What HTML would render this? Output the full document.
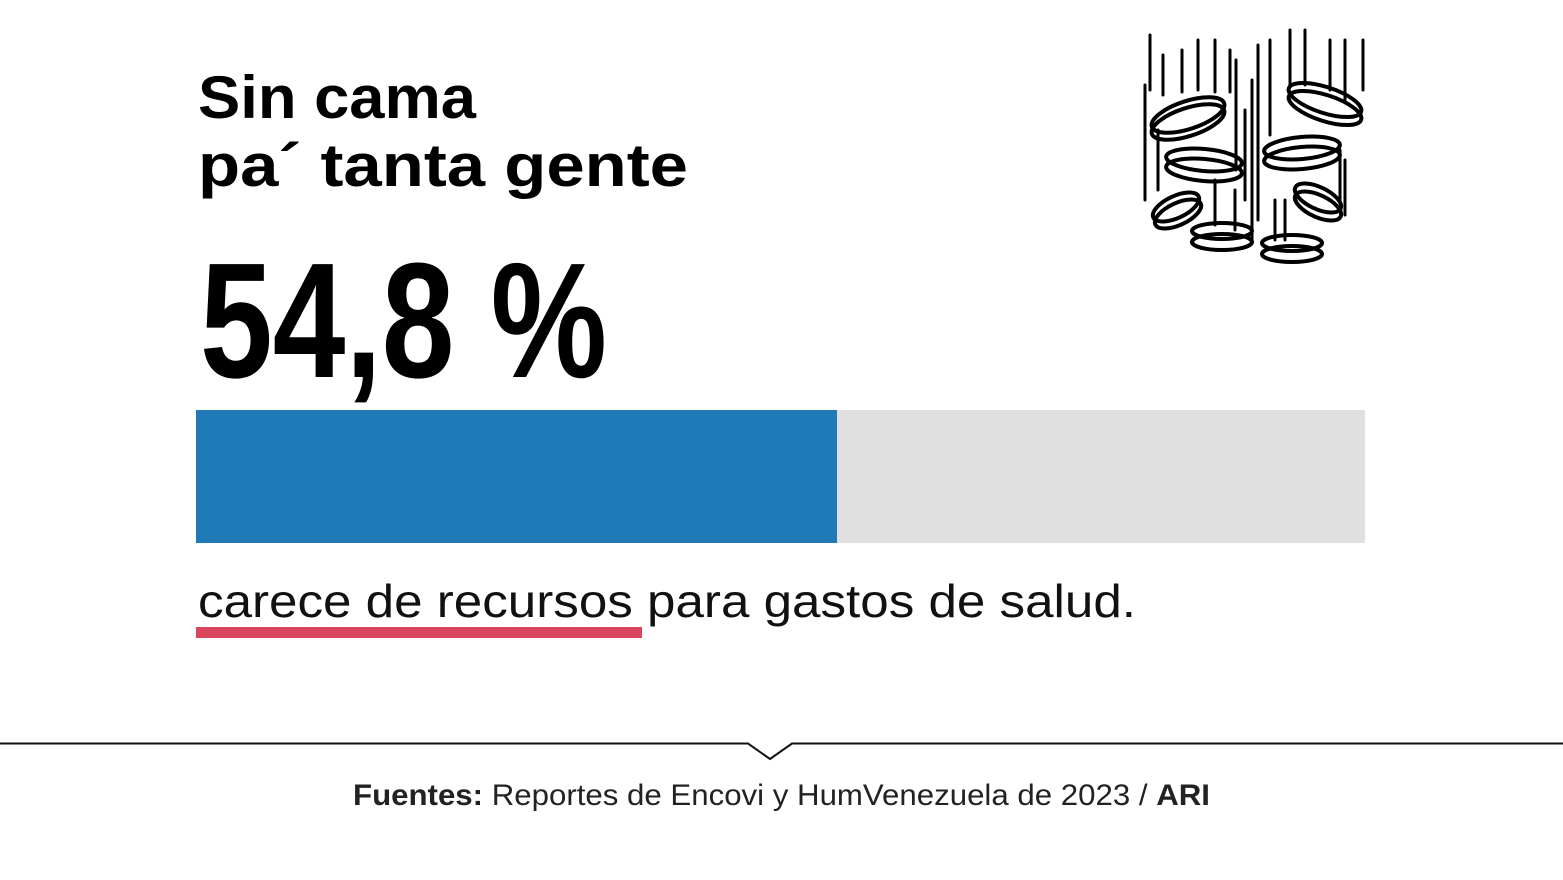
<!DOCTYPE html>
<html><head><meta charset="utf-8"><style>
html,body{margin:0;padding:0;background:#fff;}
svg{display:block;}
</style></head><body>
<svg width="1563" height="880" viewBox="0 0 1563 880" xmlns="http://www.w3.org/2000/svg">
<rect width="1563" height="880" fill="#fff"/>
<g font-family="Liberation Sans, sans-serif" font-weight="bold" fill="#000">
<text x="198" y="118" font-size="60" textLength="278" lengthAdjust="spacingAndGlyphs">Sin cama</text>
<text x="198" y="186" font-size="60" textLength="490" lengthAdjust="spacingAndGlyphs">pa´ tanta gente</text>
<text x="200" y="377" font-size="164" textLength="407" lengthAdjust="spacingAndGlyphs">54,8 %</text>
</g>
<rect x="196" y="410" width="1169" height="133" fill="#e0e0e0"/>
<rect x="196" y="410" width="641" height="133" fill="#1f7ab7"/>
<text x="198" y="617" font-family="Liberation Sans, sans-serif" font-size="46" fill="#111" textLength="938" lengthAdjust="spacingAndGlyphs">carece de recursos para gastos de salud.</text>
<rect x="196" y="627" width="446" height="11" fill="#d9465d"/>
<polyline points="0,743.5 748,743.5 770,759 792,743.5 1563,743.5" fill="none" stroke="#111" stroke-width="2"/>
<text x="353" y="805" font-family="Liberation Sans, sans-serif" font-size="30" fill="#222" textLength="857" lengthAdjust="spacingAndGlyphs"><tspan font-weight="bold">Fuentes:</tspan> Reportes de Encovi y HumVenezuela de 2023 / <tspan font-weight="bold">ARI</tspan></text>
<g stroke="#000" stroke-width="3" fill="none" stroke-linecap="round">
<path d="M1150 35 V90 M1163 55 V95 M1182 50 V92 M1198 40 V90 M1215 40 V92 M1230 50 V92 M1145 85 V200 M1158 130 V190 M1236 60 V170 M1245 110 V200 M1252 80 V240 M1258 45 V220 M1270 40 V135 M1290 30 V85 M1305 30 V85 M1330 40 V90 M1345 40 V100 M1363 40 V90 M1340 150 V200 M1345 160 V215 M1235 190 V230 M1215 180 V225 M1285 200 V240 M1275 200 V240"/>
<g stroke-width="4">
<ellipse cx="1188" cy="115" rx="38" ry="14" transform="rotate(-18 1188 115)"/>
<ellipse cx="1188" cy="122" rx="38" ry="14" transform="rotate(-18 1188 122)"/>
<ellipse cx="1325" cy="100" rx="38" ry="13" transform="rotate(18 1325 100)"/>
<ellipse cx="1325" cy="108" rx="38" ry="13" transform="rotate(18 1325 108)"/>
<ellipse cx="1204" cy="160" rx="38" ry="11" transform="rotate(5 1204 160)"/>
<ellipse cx="1204" cy="170" rx="38" ry="11" transform="rotate(5 1204 170)"/>
<ellipse cx="1302" cy="148" rx="38" ry="11" transform="rotate(-5 1302 148)"/>
<ellipse cx="1302" cy="158" rx="38" ry="11" transform="rotate(-5 1302 158)"/>
<ellipse cx="1176" cy="207" rx="25" ry="11" transform="rotate(-25 1176 207)"/>
<ellipse cx="1178" cy="214" rx="25" ry="11" transform="rotate(-25 1178 214)"/>
<ellipse cx="1318" cy="198" rx="25" ry="11" transform="rotate(25 1318 198)"/>
<ellipse cx="1318" cy="206" rx="25" ry="11" transform="rotate(25 1318 206)"/>
<ellipse cx="1222" cy="231" rx="30" ry="8"/>
<ellipse cx="1222" cy="242" rx="30" ry="8"/>
<ellipse cx="1292" cy="243" rx="30" ry="8"/>
<ellipse cx="1292" cy="254" rx="30" ry="8"/>
</g>
</g>
</svg>
</body></html>
